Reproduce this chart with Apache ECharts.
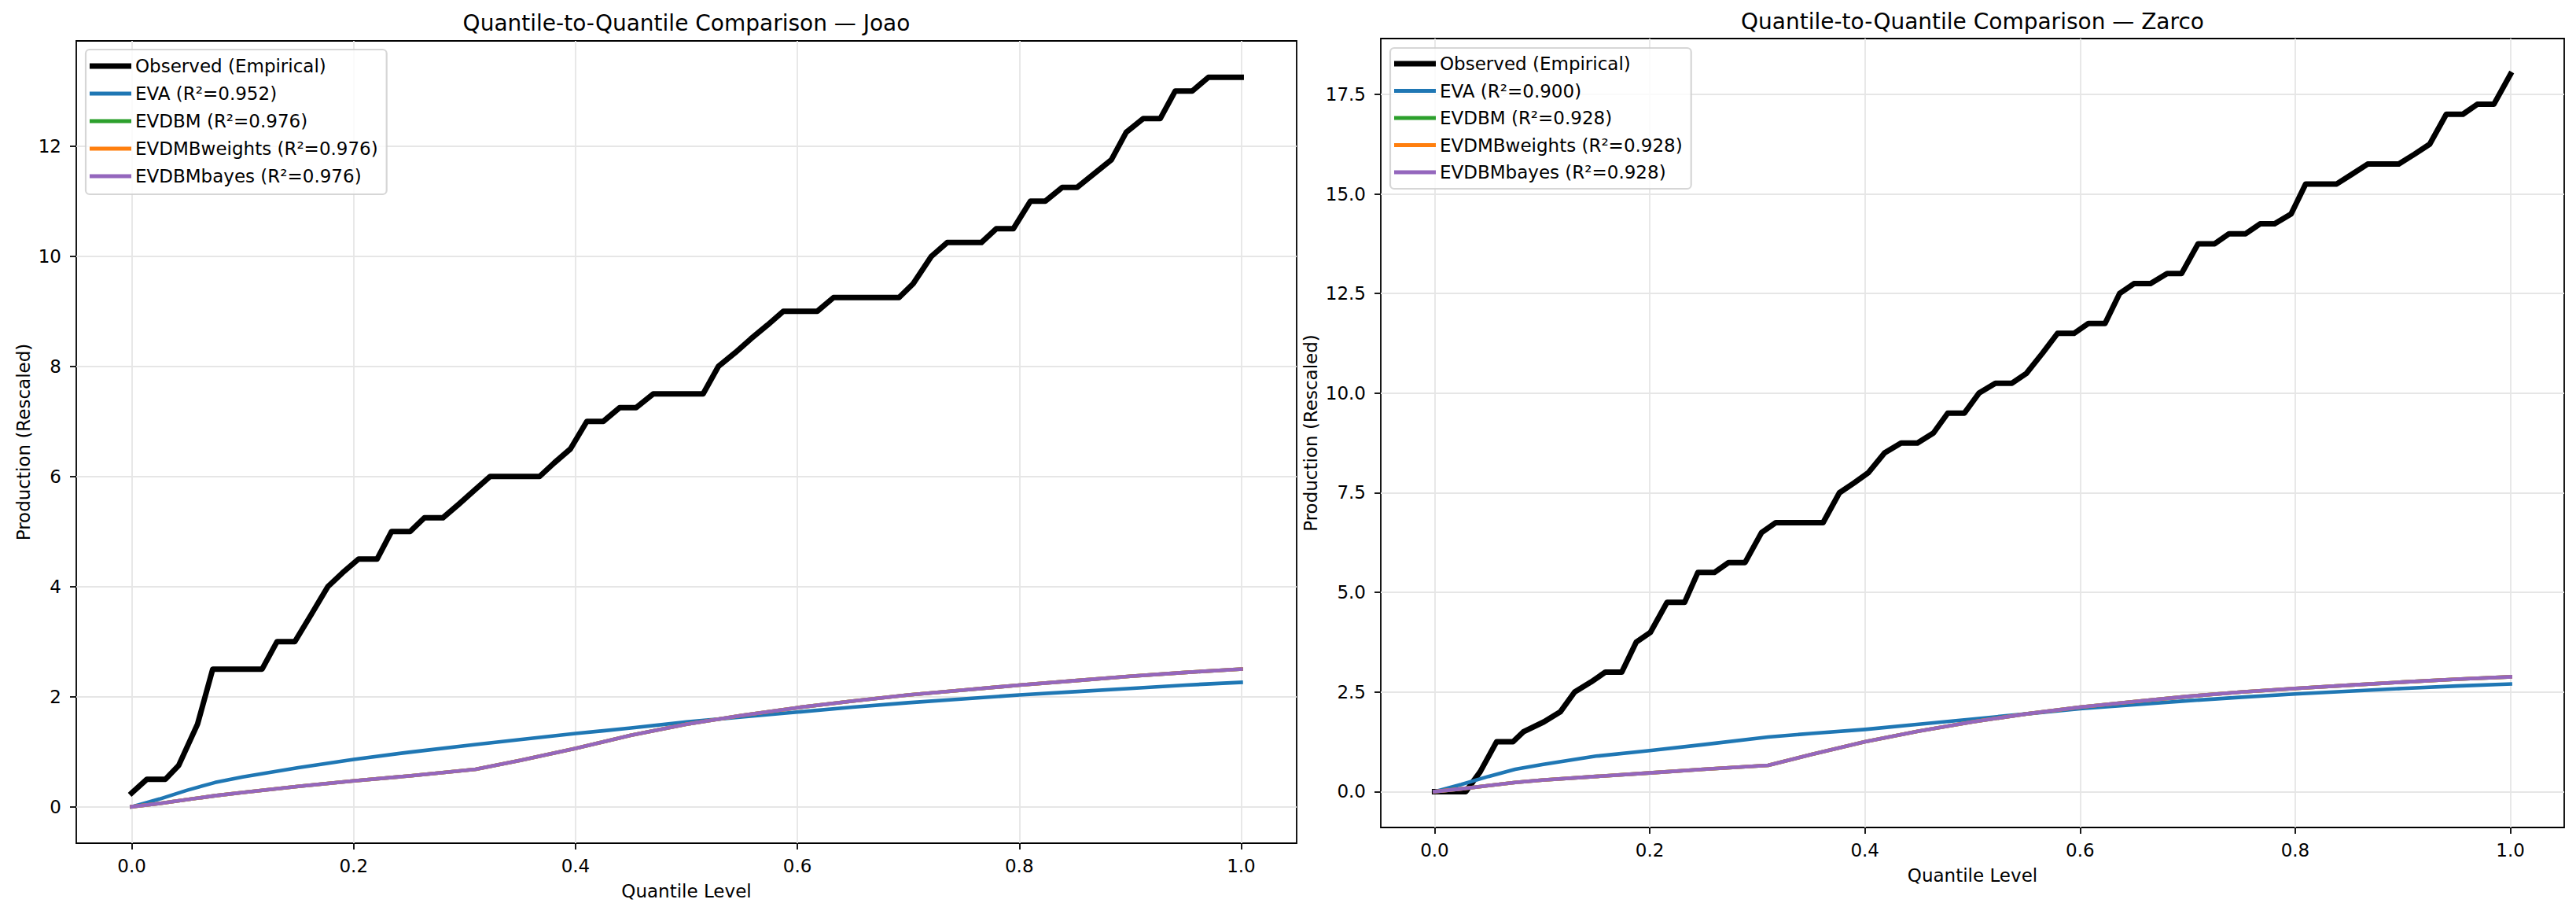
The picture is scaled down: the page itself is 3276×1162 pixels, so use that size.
<!DOCTYPE html>
<html><head><meta charset="utf-8">
<script src="https://cdn.jsdelivr.net/npm/echarts@6/dist/echarts.min.js"></script>
<style>html,body{margin:0;padding:0;background:#fff}#c{width:3276px;height:1162px}</style>
</head><body><div id="c"></div>
<script>
// ---------- data ----------
const xTicks = [0, 0.2, 0.4, 0.6, 0.8, 1.0];
const yTicksJoao = [0, 2, 4, 6, 8, 10, 12];
const yTicksZarco = [0, 2.5, 5, 7.5, 10, 12.5, 15, 17.5];

const titles = ['Quantile-to-Quantile Comparison \u2014 Joao', 'Quantile-to-Quantile Comparison \u2014 Zarco'];
const namesJoao = ['Observed (Empirical)', 'EVA (R\u00b2=0.952)', 'EVDBM (R\u00b2=0.976)', 'EVDMBweights (R\u00b2=0.976)', 'EVDBMbayes (R\u00b2=0.976)'];
const namesZarco = ['Observed (Empirical)', 'EVA (R\u00b2=0.900)', 'EVDBM (R\u00b2=0.928)', 'EVDMBweights (R\u00b2=0.928)', 'EVDBMbayes (R\u00b2=0.928)'];

// observed empirical quantiles (vertices)
const obsJoaoQ = [0, 0.0137, 0.0304, 0.0423, 0.0593, 0.073, 0.1175, 0.131, 0.147, 0.162, 0.1768, 0.19, 0.2045, 0.2212, 0.2342, 0.2509, 0.2638, 0.2805, 0.295, 0.309, 0.3231, 0.3676, 0.381, 0.3954, 0.4102, 0.425, 0.4398, 0.4546, 0.4701, 0.515, 0.5288, 0.544, 0.558, 0.573, 0.5872, 0.6179, 0.6325, 0.6916, 0.7043, 0.7208, 0.735, 0.7658, 0.7792, 0.7946, 0.81, 0.8234, 0.8387, 0.8521, 0.8675, 0.8829, 0.8963, 0.9117, 0.927, 0.9405, 0.9558, 0.9704, 1.0];
const obsJoaoV = [0.25, 0.5, 0.5, 0.75, 1.5, 2.5, 2.5, 3.0, 3.0, 3.5, 4.0, 4.25, 4.5, 4.5, 5.0, 5.0, 5.25, 5.25, 5.5, 5.75, 6.0, 6.0, 6.25, 6.5, 7.0, 7.0, 7.25, 7.25, 7.5, 7.5, 8.0, 8.25, 8.5, 8.75, 9.0, 9.0, 9.25, 9.25, 9.5, 10.0, 10.25, 10.25, 10.5, 10.5, 11.0, 11.0, 11.25, 11.25, 11.5, 11.75, 12.25, 12.5, 12.5, 13.0, 13.0, 13.25, 13.25];

const obsZarcoQ = [0, 0.029, 0.0424, 0.0576, 0.0729, 0.0825, 0.1016, 0.1168, 0.1302, 0.1454, 0.1588, 0.174, 0.1874, 0.2007, 0.2161, 0.2324, 0.2447, 0.26, 0.2733, 0.2886, 0.3039, 0.3172, 0.3611, 0.3763, 0.39, 0.403, 0.4183, 0.4336, 0.4488, 0.4637, 0.477, 0.4925, 0.506, 0.5213, 0.5367, 0.5502, 0.565, 0.579, 0.5943, 0.6078, 0.6232, 0.6367, 0.6501, 0.6655, 0.6809, 0.6943, 0.7097, 0.7251, 0.7385, 0.7539, 0.7673, 0.7808, 0.7962, 0.8097, 0.8385, 0.853, 0.8673, 0.8962, 0.911, 0.925, 0.9404, 0.9558, 0.9692, 0.9846, 1.0];
const obsZarcoV = [0, 0, 0.5, 1.25, 1.25, 1.5, 1.75, 2.0, 2.5, 2.75, 3.0, 3.0, 3.75, 4.0, 4.75, 4.75, 5.5, 5.5, 5.75, 5.75, 6.5, 6.75, 6.75, 7.5, 7.75, 8.0, 8.5, 8.75, 8.75, 9.0, 9.5, 9.5, 10.0, 10.25, 10.25, 10.5, 11.0, 11.5, 11.5, 11.75, 11.75, 12.5, 12.75, 12.75, 13.0, 13.0, 13.75, 13.75, 14.0, 14.0, 14.25, 14.25, 14.5, 15.25, 15.25, 15.5, 15.75, 15.75, 16.0, 16.25, 17.0, 17.0, 17.25, 17.25, 18.0];

// model quantile levels
const modelQ = [0, 0.025, 0.05, 0.075, 0.1, 0.15, 0.2, 0.25, 0.31, 0.35, 0.4, 0.45, 0.5, 0.55, 0.6, 0.65, 0.7, 0.75, 0.8, 0.85, 0.9, 0.95, 1.0];

const evaJoao          = [0, 0.14, 0.30, 0.44, 0.54, 0.71, 0.86, 0.99, 1.13, 1.22, 1.33, 1.43, 1.54, 1.63, 1.72, 1.81, 1.89, 1.96, 2.03, 2.09, 2.15, 2.21, 2.26];
const evdbmJoao        = [0, 0.06, 0.13, 0.20, 0.26, 0.37, 0.47, 0.56, 0.68, 0.84, 1.06, 1.30, 1.50, 1.66, 1.80, 1.92, 2.03, 2.12, 2.21, 2.29, 2.37, 2.44, 2.50];
const evdbmWeightsJoao = [0, 0.06, 0.13, 0.20, 0.26, 0.37, 0.47, 0.56, 0.68, 0.84, 1.06, 1.30, 1.50, 1.66, 1.80, 1.92, 2.03, 2.12, 2.21, 2.29, 2.37, 2.44, 2.50];
const evdbmBayesJoao   = [0, 0.06, 0.13, 0.20, 0.26, 0.37, 0.47, 0.56, 0.68, 0.84, 1.06, 1.30, 1.50, 1.66, 1.80, 1.92, 2.03, 2.12, 2.21, 2.29, 2.37, 2.44, 2.50];

const evaZarco          = [0, 0.18, 0.38, 0.56, 0.68, 0.89, 1.03, 1.18, 1.37, 1.46, 1.56, 1.69, 1.82, 1.95, 2.08, 2.18, 2.28, 2.37, 2.45, 2.52, 2.59, 2.65, 2.70];
const evdbmZarco        = [0, 0.07, 0.15, 0.23, 0.29, 0.38, 0.47, 0.56, 0.66, 0.93, 1.25, 1.52, 1.75, 1.95, 2.12, 2.26, 2.39, 2.50, 2.59, 2.67, 2.75, 2.82, 2.88];
const evdbmWeightsZarco = [0, 0.07, 0.15, 0.23, 0.29, 0.38, 0.47, 0.56, 0.66, 0.93, 1.25, 1.52, 1.75, 1.95, 2.12, 2.26, 2.39, 2.50, 2.59, 2.67, 2.75, 2.82, 2.88];
const evdbmBayesZarco   = [0, 0.07, 0.15, 0.23, 0.29, 0.38, 0.47, 0.56, 0.66, 0.93, 1.25, 1.52, 1.75, 1.95, 2.12, 2.26, 2.39, 2.50, 2.59, 2.67, 2.75, 2.82, 2.88];

// ---------- styling ----------
const FONT = 'DejaVu Sans';
const colors = ['#000000', '#1f77b4', '#2ca02c', '#ff7f0e', '#9467bd'];
const widths = [7, 4.6, 4.6, 4.6, 4.6];
const grids = [
  {left: 97, top: 52, width: 1552, height: 1020},
  {left: 1756, top: 49, width: 1505, height: 1003}
];
const yRanges = [[-0.6625, 13.9125], [-0.9, 18.9]];

function pairs(q, v) { return q.map((x, i) => [x, v[i]]); }

const panelData = [
  [pairs(obsJoaoQ, obsJoaoV), pairs(modelQ, evaJoao), pairs(modelQ, evdbmJoao), pairs(modelQ, evdbmWeightsJoao), pairs(modelQ, evdbmBayesJoao)],
  [pairs(obsZarcoQ, obsZarcoV), pairs(modelQ, evaZarco), pairs(modelQ, evdbmZarco), pairs(modelQ, evdbmWeightsZarco), pairs(modelQ, evdbmBayesZarco)]
];
const panelNames = [namesJoao, namesZarco];
const yTicks = [yTicksJoao, yTicksZarco];
const yFmt = [v => String(Math.round(v)), v => v.toFixed(1)];
const yNameGap = [56, 78];
const xNameGap = [49, 49];

const tickStyle = {fontFamily: FONT, fontSize: 23, color: '#000'};

const option = {
  animation: false,
  backgroundColor: '#ffffff',
  grid: grids.map(g => Object.assign({show: true, borderColor: '#000', borderWidth: 1.8, backgroundColor: 'rgba(0,0,0,0)'}, g)),
  xAxis: [0, 1].map(p => ({
    type: 'value', gridIndex: p, min: -0.05, max: 1.05, position: 'bottom',
    name: 'Quantile Level', nameLocation: 'middle', nameGap: xNameGap[p],
    nameTextStyle: {fontFamily: FONT, fontSize: 23, color: '#000'},
    axisLine: {show: false, onZero: false},
    axisTick: {show: true, length: 8, inside: false, customValues: xTicks, lineStyle: {color: '#000', width: 1.8}},
    axisLabel: {show: true, margin: 17, customValues: xTicks, formatter: v => v.toFixed(1), ...tickStyle},
    splitLine: {show: true, lineStyle: {color: '#e6e6e6', width: 1.8}}
  })),
  yAxis: [0, 1].map(p => ({
    type: 'value', gridIndex: p, min: yRanges[p][0], max: yRanges[p][1], position: 'left',
    name: 'Production (Rescaled)', nameLocation: 'middle', nameRotate: 90, nameGap: yNameGap[p],
    nameTextStyle: {fontFamily: FONT, fontSize: 23, color: '#000'},
    axisLine: {show: false, onZero: false},
    axisTick: {show: true, length: 8, inside: false, customValues: yTicks[p], lineStyle: {color: '#000', width: 1.8}},
    axisLabel: {show: true, margin: 19, customValues: yTicks[p], formatter: yFmt[p], ...tickStyle},
    splitLine: {show: true, lineStyle: {color: '#e6e6e6', width: 1.8}}
  })),
  legend: [0, 1].map(p => ({
    orient: 'vertical',
    left: p === 0 ? 109 : 1768,
    top: p === 0 ? 63 : 61,
    padding: p === 0 ? [8, 11, 10, 5] : [7, 11, 8, 5],
    itemWidth: 53, itemHeight: 14, itemGap: p === 0 ? 9 : 8.5, itemTextGap: 15,
    backgroundColor: 'rgba(255,255,255,0.8)',
    borderColor: 'rgba(204,204,204,0.8)', borderWidth: 2.2, borderRadius: 5,
    textStyle: {fontFamily: FONT, fontSize: 23, color: '#000', lineHeight: 26},
    selectedMode: false,
    data: panelNames[p].map((n, i) => ({
      name: n,
      icon: i === 0 ? 'path://M0,0H53V7H0Z' : 'path://M0,0H51V4.7H0Z',
      itemStyle: {color: colors[i], borderWidth: 0}
    }))
  })),
  graphic: [0, 1].map(p => ({
    type: 'text', silent: true,
    x: grids[p].left + grids[p].width / 2,
    y: p === 0 ? 29 : 27,
    style: {text: titles[p], fontFamily: FONT, fontSize: 28, fill: '#000', textAlign: 'center', textVerticalAlign: 'middle'}
  })),
  series: []
};

[0, 1].forEach(p => {
  panelData[p].forEach((d, i) => {
    option.series.push({
      type: 'line', name: panelNames[p][i], xAxisIndex: p, yAxisIndex: p,
      data: d, symbol: 'none', showSymbol: false, smooth: false,
      color: colors[i],
      lineStyle: {color: colors[i], width: widths[i], cap: 'square', join: 'round'},
      emphasis: {disabled: true}, silent: true, z: 2 + i
    });
  });
});

const chart = echarts.init(document.getElementById('c'), null, {renderer: 'svg', width: 3276, height: 1162});
chart.setOption(option);
</script>
</body></html>
